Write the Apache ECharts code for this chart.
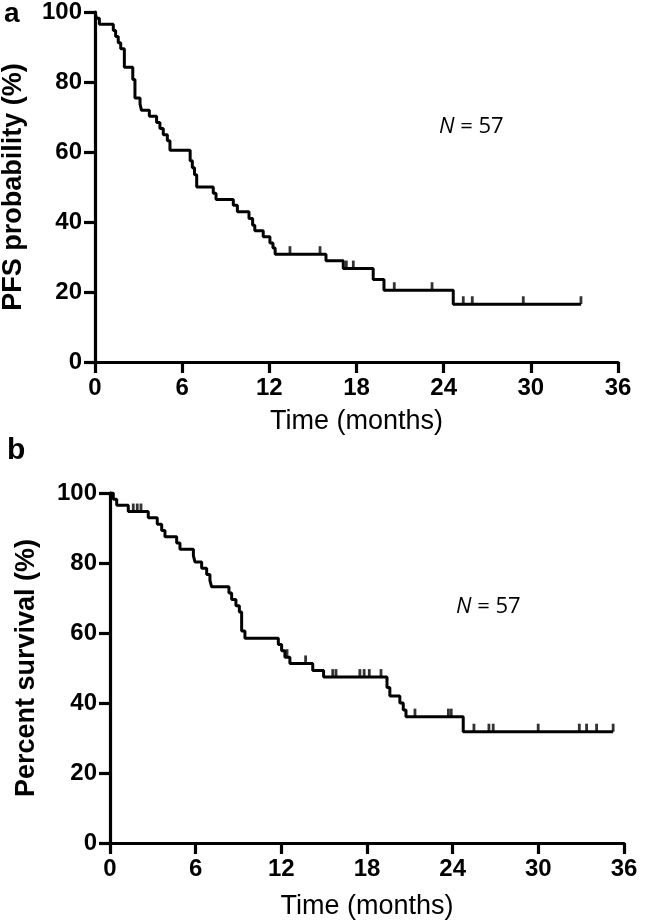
<!DOCTYPE html>
<html><head><meta charset="utf-8">
<script src="https://cdn.jsdelivr.net/npm/echarts/dist/echarts.min.js"></script>
<style>html,body{margin:0;padding:0;background:#fff}#c{width:647px;height:924px}</style>
</head><body><div id="c"></div>
<script>
// ---- data ----
const xTicks = [0, 6, 12, 18, 24, 30, 36];
const yTicks = [0, 20, 40, 60, 80, 100];

// Panel a: PFS (time in months, probability % after each event)
const pfsTime = [0, 0.1, 0.3, 1.26, 1.42, 1.6, 1.77, 2.02, 2.6, 2.75, 3.1, 3.2, 3.74, 4.24, 4.47, 4.7, 4.98, 5.16,
  6.55, 6.7, 6.85, 7.0, 8.14, 8.33, 9.52, 9.8, 10.6, 10.85, 11.0, 11.58, 12.04, 12.25, 12.4, 15.9, 17.09, 19.15, 19.89, 24.66, 33.45];
const pfsSurv = [100, 98.2, 96.5, 94.7, 93.0, 91.2, 89.5, 84.2, 80.7, 75.4, 73.7, 71.9, 70.2, 68.4, 66.7, 64.9, 63.2, 60.5,
  57.5, 55.5, 53.5, 50.0, 48.2, 46.4, 44.8, 42.9, 41.0, 39.1, 37.5, 35.8, 34.0, 32.6, 30.8, 28.9, 26.7, 23.6, 20.5, 16.5, 16.5];
const pfsCensor = [13.42, 15.49, 17.3, 17.78, 20.6, 23.2, 25.35, 25.97, 29.48, 33.45];

// Panel b: overall survival
const osTime = [0, 0.23, 0.47, 1.28, 2.68, 3.31, 3.62, 3.85, 4.67, 4.9, 5.84, 5.95, 6.42, 6.77, 7.0, 7.12, 8.33, 8.52, 8.82, 9.06,
  9.22, 9.45, 11.79, 12.02, 12.25, 12.6, 14.2, 14.96, 19.4, 19.6, 20.3, 20.54, 20.73, 24.74, 35.24];
const osSurv = [100, 98.2, 96.5, 94.7, 92.9, 91.1, 89.3, 87.5, 85.7, 83.9, 82.1, 80.3, 78.5, 76.7, 75.0, 73.2, 71.4, 69.6, 67.8, 66.0,
  60.6, 58.5, 56.7, 54.9, 53.1, 51.3, 49.3, 47.4, 44.4, 42.0, 40.0, 38.0, 36.1, 31.8, 31.8];
const osCensor = [1.63, 1.91, 2.17, 12.4, 13.7, 15.6, 15.83, 17.5, 17.8, 18.16, 18.98, 21.36, 23.7, 23.9, 25.49, 26.54, 26.84,
  29.99, 32.87, 33.38, 34.08, 35.24];

const nLabel = '57';

// ---- helpers ----
function survAt(times, vals, t) {
  let v = vals[0];
  for (let i = 0; i < times.length; i++) { if (times[i] <= t) v = vals[i]; }
  return v;
}
const zip = (a, b) => a.map((v, i) => [v, b[i]]);
const censorPts = (c, times, vals) => c.map(t => [t, survAt(times, vals, t)]);

const FONT = '"Liberation Sans", Arial, sans-serif';
const axisLineStyle = { color: '#000', width: 3.2 };

function xAxisDef(gridIndex, gap) {
  return {
    gridIndex, type: 'value', min: xTicks[0], max: xTicks[xTicks.length - 1], interval: xTicks[1] - xTicks[0],
    name: 'Time (months)', nameLocation: 'middle', nameGap: gap,
    nameTextStyle: { fontFamily: FONT, fontSize: 27, color: '#000' },
    axisLine: { show: true, onZero: false, lineStyle: axisLineStyle },
    axisTick: { show: true, length: 11, lineStyle: { color: '#000', width: 3.2 } },
    axisLabel: { fontFamily: FONT, fontSize: 24, fontWeight: 'bold', color: '#000', margin: 14 },
    splitLine: { show: false }
  };
}
function yAxisDef(gridIndex, name, gap) {
  return {
    gridIndex, type: 'value', min: yTicks[0], max: yTicks[yTicks.length - 1], interval: yTicks[1] - yTicks[0],
    name, nameLocation: 'middle', nameGap: gap,
    nameTextStyle: { fontFamily: FONT, fontSize: 27, fontWeight: 'bold', color: '#000' },
    axisLine: { show: true, onZero: false, lineStyle: axisLineStyle },
    axisTick: { show: true, length: 11, lineStyle: { color: '#000', width: 3.2 } },
    axisLabel: { fontFamily: FONT, fontSize: 24, fontWeight: 'bold', color: '#000', margin: 13 },
    splitLine: { show: false }
  };
}
function kmSeries(idx, times, vals, cens) {
  return [
    { type: 'line', xAxisIndex: idx, yAxisIndex: idx, step: 'end', data: zip(times, vals),
      showSymbol: false, lineStyle: { color: '#000', width: 3 }, silent: true, animation: false },
    { type: 'scatter', xAxisIndex: idx, yAxisIndex: idx, data: censorPts(cens, times, vals),
      symbol: 'rect', symbolSize: [2.8, 8], symbolOffset: [0, -4],
      itemStyle: { color: '#000' }, silent: true, animation: false }
  ];
}

const nStyle = {
  text: '{i|N} = ' + nLabel,
  rich: { i: { fontStyle: 'italic', fontFamily: '"Open Sans", sans-serif', fontSize: 22, fill: '#000' } },
  fontFamily: '"Open Sans", sans-serif', fontSize: 22, fill: '#000'
};

const chart = echarts.init(document.getElementById('c'), null, { renderer: 'canvas' });
chart.setOption({
  backgroundColor: '#fff',
  animation: false,
  grid: [
    { left: 95, top: 12, width: 523, height: 350, containLabel: false, outerBoundsMode: 'none' },
    { left: 110, top: 493, width: 514, height: 350, containLabel: false, outerBoundsMode: 'none' }
  ],
  xAxis: [xAxisDef(0, 46), xAxisDef(1, 50)],
  yAxis: [yAxisDef(0, 'PFS probability (%)', 68), yAxisDef(1, 'Percent survival (%)', 70)],
  series: [...kmSeries(0, pfsTime, pfsSurv, pfsCensor), ...kmSeries(1, osTime, osSurv, osCensor)],
  graphic: [
    { type: 'text', left: 4, top: 0, style: { text: 'a', font: 'bold 28px ' + FONT, fill: '#000' } },
    { type: 'text', left: 7, top: 436, style: { text: 'b', font: 'bold 30px ' + FONT, fill: '#000' } },
    { type: 'text', left: 439, top: 116, style: nStyle },
    { type: 'text', left: 456, top: 596, style: nStyle }
  ]
});
</script>
</body></html>
